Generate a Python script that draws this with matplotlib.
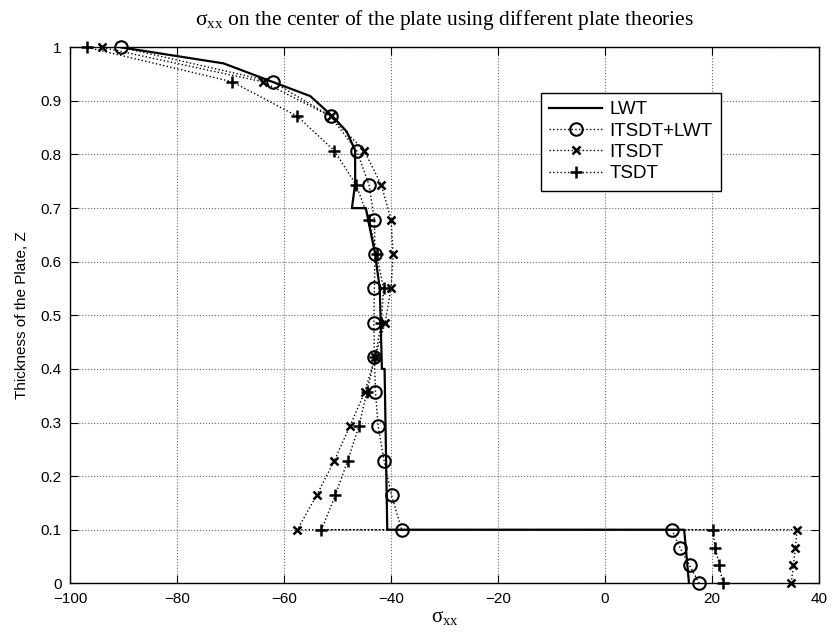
import matplotlib
matplotlib.use("Agg")
import matplotlib.pyplot as plt

# thickness positions (bottom layer first, then upper layer)
z_pts = [0.0, 0.0333, 0.0667, 0.1,
         0.1, 0.1643, 0.2286, 0.2929, 0.3571, 0.4214, 0.4857, 0.55,
         0.6143, 0.6786, 0.7429, 0.8071, 0.8714, 0.9357, 1.0]

itsdt_lwt = [17.6, 15.8, 14.0, 12.5,
             -38.0, -39.9, -41.3, -42.4, -42.9, -43.1, -43.2, -43.1,
             -43.0, -43.1, -44.1, -46.4, -51.3, -62.1, -90.5]
itsdt = [34.8, 35.2, 35.6, 35.9,
         -57.5, -53.9, -50.6, -47.7, -44.9, -43.0, -41.1, -40.0,
         -39.6, -40.0, -41.8, -45.0, -51.3, -64.0, -94.1]
tsdt = [22.0, 21.4, 20.6, 20.1,
        -53.0, -50.4, -48.1, -46.0, -44.5, -43.0, -41.8, -41.4,
        -42.7, -44.1, -46.5, -50.6, -57.5, -69.7, -96.9]

# layerwise theory curve
lwt_z = [0.0, 0.1, 0.1, 0.4, 0.4, 0.55, 0.616, 0.70, 0.70, 0.746,
         0.808, 0.843, 0.87, 0.909, 0.97, 1.0]
lwt_x = [15.7, 14.8, -40.7, -41.2, -41.7, -42.1, -43.0, -44.7, -47.3, -46.7,
         -46.7, -48.3, -50.8, -55.1, -71.3, -90.5]

xticks = [-100, -80, -60, -40, -20, 0, 20, 40]
yticks = [0, 0.1, 0.2, 0.3, 0.4, 0.5, 0.6, 0.7, 0.8, 0.9, 1]
ytick_labels = ["0", "0.1", "0.2", "0.3", "0.4", "0.5", "0.6", "0.7", "0.8", "0.9", "1"]

plt.rcParams['font.family'] = ['Liberation Sans', 'DejaVu Sans']
plt.rcParams['mathtext.fontset'] = 'custom'
plt.rcParams['mathtext.rm'] = 'Liberation Serif'

fig = plt.figure(figsize=(8.32, 6.36), dpi=100)
ax = fig.add_axes([70 / 832, 1 - 583.3 / 636, 749 / 832, 536 / 636])

ax.plot(lwt_x, lwt_z, color='black', linewidth=1.6, label='LWT')
ax.plot(itsdt_lwt, z_pts, ':', color='black', linewidth=1.0, marker='o',
        markersize=9, markerfacecolor='none', markeredgewidth=1.5,
        label='ITSDT+LWT', clip_on=False)
ax.plot(itsdt, z_pts, ':', color='black', linewidth=1.0, marker='x',
        markersize=6, markeredgewidth=1.8, label='ITSDT', clip_on=False)
ax.plot(tsdt, z_pts, ':', color='black', linewidth=1.0, marker='+',
        markersize=9, markeredgewidth=1.8, label='TSDT', clip_on=False)

ax.set_xlim(-100, 40)
ax.set_ylim(0, 1)
ax.set_xticks(xticks)
ax.set_yticks(yticks)
ax.set_yticklabels(ytick_labels)
ax.tick_params(direction='in', top=True, right=True, length=6, width=0.8,
               labelsize=11, pad=6)
ax.grid(True, linestyle=':', color='black', linewidth=0.8, alpha=0.6)
for s in ax.spines.values():
    s.set_linewidth(1.0)

ax.set_title('σ$_{\\mathrm{xx}}$ on the center of the plate using different plate theories',
             family='Liberation Serif', fontsize=15.5, pad=16)
ax.set_xlabel('σ$_{\\mathrm{xx}}$', family='Liberation Serif', fontsize=15, labelpad=2)
ax.set_ylabel('Thickness of the Plate, Z', fontsize=11, labelpad=8)

leg = ax.legend(loc='upper right', bbox_to_anchor=(0.869, 0.915),
                borderaxespad=0, fancybox=False, framealpha=1,
                edgecolor='black', fontsize=13.5, handlelength=2.8,
                labelspacing=0.22, borderpad=0.45, handletextpad=0.4)
leg.get_frame().set_linewidth(1.0)

plt.savefig("out.png", dpi=100)
plt.close()
